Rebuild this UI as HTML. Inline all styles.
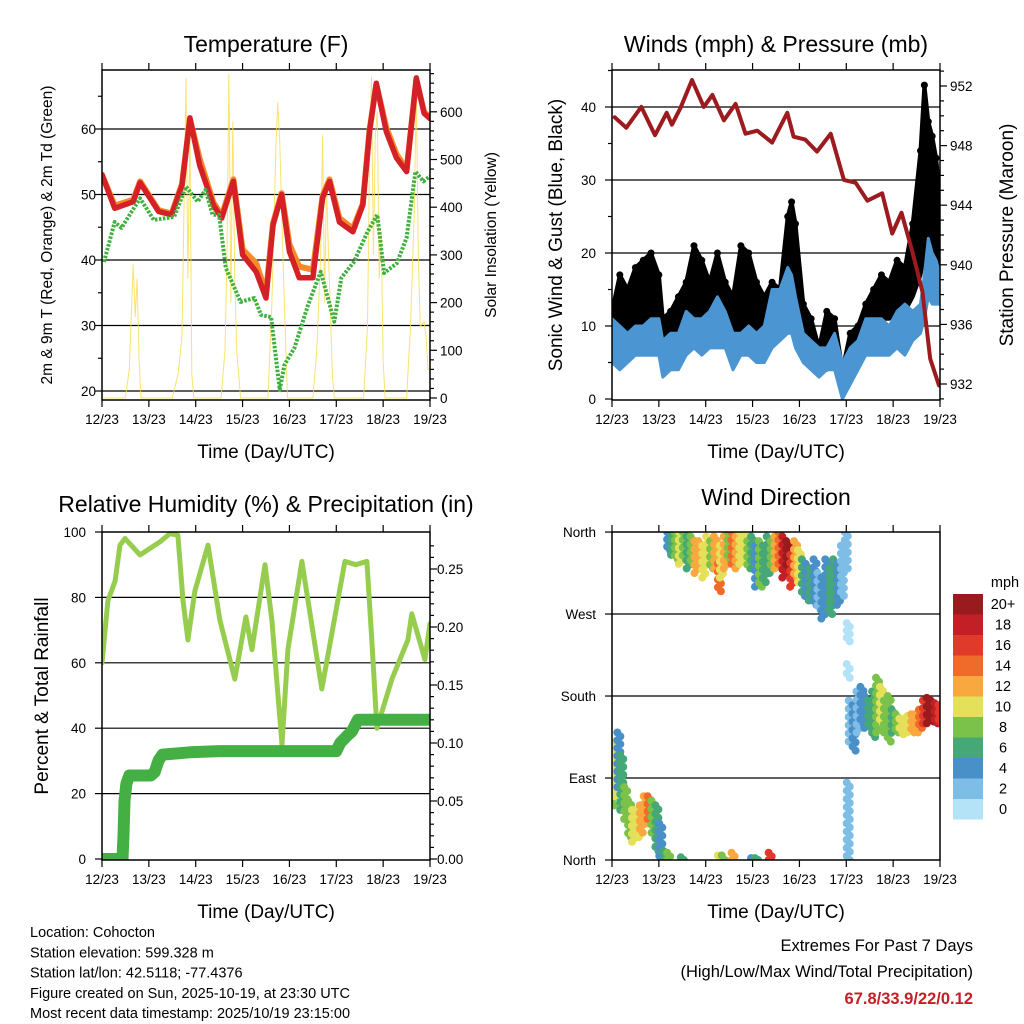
<!DOCTYPE html>
<html><head><meta charset="utf-8"><style>
body{margin:0;background:#fff;}
svg{display:block;font-family:"Liberation Sans",sans-serif;}
</style></head><body>
<svg id="chart" width="1024" height="1024" viewBox="0 0 1024 1024" xmlns="http://www.w3.org/2000/svg">
<defs>
<clipPath id="c1"><rect x="102" y="70" width="328" height="330"/></clipPath>
<clipPath id="c2"><rect x="612" y="70" width="328" height="330"/></clipPath>
<clipPath id="c3"><rect x="102" y="532" width="328" height="328"/></clipPath>
<clipPath id="c4"><rect x="612" y="532" width="328" height="328"/></clipPath>
</defs>
</svg>
<script>
// ---- data ----
const dayLabels = ["12/23","13/23","14/23","15/23","16/23","17/23","18/23","19/23"];
const tHours = [0,6.5,16,19.5,29,35.7,41,45,50,57,61.3,67.3,72,79,84,87.6,92,96,101,108,113,116.5,121.6,128.5,133.6,137,140.5,145.6,150.8,156,161,165,168];
const tRed   = [53,47.9,48.9,51.8,47.4,46.9,51.4,61.7,54.5,48.4,46.4,52,40.8,38.2,34.2,45.3,50,41.3,37.3,37.3,49.5,52,45.8,44.3,48.4,59.6,67,59.6,55.6,53.5,67.8,62.4,61.6];
const tOrange= [53,48.3,49.2,52,47.6,47.1,51.6,61.5,55.5,48.8,46.8,52.3,41.6,39.5,35,45.6,50.2,42.4,39,38.5,49.8,52.3,46.4,44.8,48.6,59.8,66.8,60.2,56.2,53.8,67.5,62.6,61.8];
const tdHours = [1,6.5,10,13.5,19.5,26.6,37,43,49,53,56.6,60,63.4,71,78,81.5,86.6,91,93.5,98.6,105.5,112,119,122.6,129,136,141,144.5,151,156,160.5,164.6,168];
const tDew   = [39.7,45.8,44.9,46.6,49.4,46.1,46.6,51.2,48.9,50.7,46.9,46.9,38.8,33.6,34.2,31.6,31.3,20.2,24,26.6,33.1,38.2,30.6,37.3,39.7,44.3,46.9,38,39.5,43.4,53.5,52,52.8];
const solHours = [0,12,14,16,17,18,19,20,36,39,41,42,43,44,45,46,47,61,63,64,65,66,67,68,69,71,85,87,89,90,91,93,95,108,110,112,113,114,115,116,118,119,134,136,137,138,139,140,141,142,143,144,145,156,158,160,161,162,163,165,166,167,168];
const solVals  = [0,0,60,280,170,250,80,0,0,50,130,400,670,250,560,50,0,0,100,300,680,200,580,250,100,0,0,200,520,620,540,250,0,0,100,300,551,200,450,300,50,0,0,150,500,673,300,550,600,250,350,80,0,0,150,400,650,300,150,160,130,60,60];
const presHours = [1.4,7.3,15,22,28,30.7,35,41,47,51.4,57.3,63.3,68.4,74.4,82,89.8,93,99,105,112,118.8,124.8,130.8,138.4,143.5,148.3,153.8,159,163,167.5];
const presVals  = [949.9,949.2,950.6,948.7,950.2,949.4,950.5,952.4,950.6,951.4,949.7,950.8,948.8,949,948.2,950.2,948.6,948.4,947.6,948.8,945.7,945.5,944.3,944.8,942.1,943.5,940.9,938.2,933.7,931.9];
const wHours = [0,4,8,12,16,20,24,26,30,34,38,42,46,50,54,58,62,66,70,74,78,82,86,90,92,94,98,102,106,110,114,118,122,126,130,134,138,142,146,150,154,158,160,162,164,166,168];
const windHi = [11,10,9,10,10,11,11,8,9,9,12,11,11,12,14,12,9,9,10,9,10,15,15,18,17,14,9,8,7,7,9,5,7,8,11,11,11,10,12,13,12,13,17,22,20,19,17];
const windLo = [5,4,5,6,6,6,6,3,4,4,6,7,6,7,7,7,4,6,6,5,5,7,8,9,9,7,5,4,3,4,4,0,2,4,6,6,6,6,7,6,8,9,11,14,13,13,13];
const gustHi = [12,17,15,18,19,20,17,11,12,14,16,21,19,16,20,16,14,21,20,16,14,16,15,25,27,24,13,11,7,12,11,4,9,10,13,15,17,16,19,18,24,34,43,38,36,33,28];
const gustLo = [8,9,9,10,10,10,10,7,8,7,10,11,10,11,12,11,8,9,10,9,9,12,14,16,16,13,7,6,4,4,7,2,4,7,10,10,11,11,12,12,14,17,20,22,21,20,18];
const rhHours = [0,3,6.7,9.2,11.8,19.5,29.7,34.8,38.9,41.5,44,47.6,54.3,60.4,68,73.7,76.8,83.5,87,92.2,95.2,102.4,112.6,124.4,130,135.7,138.2,140.8,148.5,156.7,158.7,165.4,168];
const rhVals  = [60,79,85,96,98,93,97,99.5,99,79,67,82,96,73,55,74,64,90,73,35,64,91,52,91,90,91,67,40,55,67,75,61,72];
const prHours = [0,10.5,11,11.5,12.5,14,25,27,29,31,45,60,120,122,126,128,131,168];
const prVals  = [0,0,0.02,0.05,0.065,0.072,0.072,0.075,0.085,0.09,0.092,0.093,0.093,0.1,0.107,0.11,0.12,0.12];
const dirHour = [0.5,2,3.5,5,7,9,11,13,15,17,19,21,23,25,27,29,36,55,57,62,72,74,81,
 29,31,33,35,37,39,41,43,45,47,49,51,53,55,56,58,60,62,64,66,68,70,72,74,76,78,80,82,84,86,88,90,92,94,96,98,100,102,104,106,108,110,112,114,116,118,120,121,121,121,
 122,124,126,128,130,132,134,136,138,140,142,144,146,148,150,152,154,156,158,160,162,164,166,168];
const dirLo = [60,70,80,55,45,25,20,25,30,40,45,30,10,0,0,0,0,0,0,0,0,0,0,
 340,335,330,325,330,320,325,315,320,310,325,320,320,295,310,320,330,325,320,325,330,320,320,300,300,305,315,320,320,325,310,320,300,310,305,290,285,285,280,275,265,270,270,285,280,290,320,240,200,0,
 130,120,140,150,145,145,135,140,150,140,130,140,140,140,138,140,140,140,145,150,150,152,150,150];
const dirHi = [110,130,140,115,80,65,55,55,60,70,70,65,60,40,10,8,3,5,5,8,2,2,8,
 360,360,360,360,360,355,355,350,350,345,355,350,355,325,345,355,360,360,355,360,360,350,355,345,350,345,355,350,355,360,355,350,335,350,340,330,325,320,330,315,310,330,320,330,325,345,360,260,215,85,
 175,170,185,190,180,175,185,200,190,175,180,165,160,155,155,158,160,160,165,175,178,175,172,170];
const dirSpd = [8,10,4,6,8,8,10,10,12,12,14,8,6,4,6,8,6,10,8,12,4,6,16,
 4,6,8,10,8,7,9,12,13,11,10,9,12,15,10,12,9,14,12,10,11,8,6,4,8,7,6,8,12,14,18,20,16,13,10,6,5,6,4,3,4,5,6,7,5,3,2,1,0,2,
 3,4,3,4,5,6,7,8,10,9,8,7,8,10,11,10,12,13,14,16,20,21,19,17];
const legendLabels = ["0","2","4","6","8","10","12","14","16","18","20+"];
const legendColors = ["#b4e3f8","#7dbde6","#4a90c8","#46a876","#7ac24a","#e5e05a","#f8a83f","#f06a2a","#e03a2a","#c41f26","#9a1b1e"];

// ---- helpers ----
const NS="http://www.w3.org/2000/svg";
const svg=document.getElementById('chart');
function mk(tag,attrs,parent){const e=document.createElementNS(NS,tag);for(const k in attrs)e.setAttribute(k,attrs[k]);(parent||svg).appendChild(e);return e;}
function txt(s,x,y,size,anchor,extra){const e=mk('text',Object.assign({x:x,y:y,'font-size':size,'text-anchor':anchor||'middle',fill:'#000'},extra||{}));e.textContent=s;return e;}
function ptsOf(hs,vs,sx,sy){return hs.map((h,i)=>sx(h).toFixed(1)+','+sy(vs[i]).toFixed(1)).join(' ');}

const P=[{x0:102,x1:430,y0:70,y1:400},{x0:612,x1:940,y0:70,y1:400},{x0:102,x1:430,y0:532,y1:860},{x0:612,x1:940,y0:532,y1:860}];
const sx=[0,1,2,3].map(i=>h=>P[i].x0+h/168*(P[i].x1-P[i].x0));
const y1L=v=>391-(v-20)*6.55, y1R=s=>398-s*0.477;
const y2L=v=>399-v*7.3, y2R=p=>384-(p-932)*14.9;
const y3L=v=>859-v*3.27, y3R=p=>859-p*1160;
const y4=d=>860-d*0.911;

function frame(i,name){
  const p=P[i];
  const r=mk('rect',{x:p.x0,y:p.y0,width:p.x1-p.x0,height:p.y1-p.y0,fill:'none',stroke:'#000','stroke-width':1.5});
  
  
  dayLabels.forEach((d,k)=>{
    const x=sx[i](k*24);
    const t1=mk('line',{x1:x,x2:x,y1:p.y0,y2:p.y0-7,stroke:'#000','stroke-width':1.2});
    
    
    const t2=mk('line',{x1:x,x2:x,y1:p.y1,y2:p.y1+7,stroke:'#000','stroke-width':1.2});
    
    
    const l=txt(d,x,p.y1+24,13.5);
    
    
  });
  const xt=txt('Time (Day/UTC)',(p.x0+p.x1)/2,p.y1+58,19);
  
  
}
function gridLine(i,y){const p=P[i];const g=mk('line',{x1:p.x0,x2:p.x1,y1:y,y2:y,stroke:'#000','stroke-width':1.2});
  
  }
function leftTick(i,y,len,label,lx){const p=P[i];const t=mk('line',{x1:p.x0,x2:p.x0-len,y1:y,y2:y,stroke:'#000','stroke-width':1.2});
  
  
  if(label!==null){const l=txt(label,lx,y+5,13.5,'end');
  
  }}
function rightTick(i,y,len,label,lx){const p=P[i];const t=mk('line',{x1:p.x1,x2:p.x1+len,y1:y,y2:y,stroke:'#000','stroke-width':1.2});
  
  
  if(label!==null){const l=txt(label,lx,y+5,13.5,'start');
  
  }}
function vtitle(s,x,y,size,name){const e=txt(s,x,y,size,'middle',{transform:'rotate(-90 '+x+' '+y+')'});
  
  }
function title(s,x,y,name){const e=txt(s,x,y,23);
  
  }

// ---- Panel 1: Temperature ----
title('Temperature (F)',266,52,'temperature-title');
[20,30,40,50,60].forEach(v=>gridLine(0,y1L(v)));
const g1=mk('g',{'clip-path':'url(#c1)'});
const sol=mk('polyline',{points:ptsOf(solHours,solVals,sx[0],y1R),fill:'none',stroke:'#f9dc4a','stroke-width':1,'stroke-opacity':0.8},g1);


const tor=mk('polyline',{points:ptsOf(tHours,tOrange,sx[0],y1L),fill:'none',stroke:'#f58a2a','stroke-width':6,'stroke-linejoin':'round','stroke-linecap':'round'},g1);


const trd=mk('polyline',{points:ptsOf(tHours,tRed,sx[0],y1L),fill:'none',stroke:'#d42027','stroke-width':5.5,'stroke-linejoin':'round','stroke-linecap':'round'},g1);


const tdw=mk('polyline',{points:ptsOf(tdHours,tDew,sx[0],y1L),fill:'none',stroke:'#3fb03f','stroke-width':4,'stroke-dasharray':'2.5 1.5','stroke-linejoin':'round'},g1);


frame(0,'temperature');
for(let v=20;v<=70;v+=5){const y=y1L(v);if(y<70)continue;leftTick(0,y,v%10===0?7:4,v%10===0?String(v):null,96);}
for(let s=0;s<=680;s+=20){rightTick(0,y1R(s),s%100===0?7:4,s%100===0?String(s):null,440);}
vtitle('2m & 9m T (Red, Orange) & 2m Td (Green)',52,235,15.5,'temperature-y-axis-title');
vtitle('Solar Insolation (Yellow)',496,235,15.5,'solar-y-axis-title');

// ---- Panel 2: Winds ----
title('Winds (mph) & Pressure (mb)',776,52,'winds-title');
[10,20,30,40].forEach(v=>gridLine(1,y2L(v)));
const g2=mk('g',{'clip-path':'url(#c2)'});
const gustPts=ptsOf(wHours,gustHi,sx[1],y2L)+' '+ptsOf(wHours.slice().reverse(),gustLo.slice().reverse(),sx[1],y2L);
const gust=mk('polygon',{points:gustPts,fill:'#000',stroke:'#000','stroke-width':4,'stroke-linejoin':'round'},g2);


wHours.forEach((h,i)=>{const c=mk('circle',{cx:sx[1](h),cy:y2L(gustHi[i]),r:3.5,fill:'#000'},g2);
  
  });
const windPts=ptsOf(wHours,windHi,sx[1],y2L)+' '+ptsOf(wHours.slice().reverse(),windLo.slice().reverse(),sx[1],y2L);
const wind=mk('polygon',{points:windPts,fill:'#4b96d2',stroke:'#4b96d2','stroke-width':3,'stroke-linejoin':'round'},g2);


const pres=mk('polyline',{points:ptsOf(presHours,presVals,sx[1],y2R),fill:'none',stroke:'#9b1b1e','stroke-width':4,'stroke-linejoin':'round','stroke-linecap':'round'},g2);


frame(1,'winds');
for(let v=0;v<=45;v+=5){leftTick(1,y2L(v),v%10===0?7:4,v%10===0?String(v):null,596);}
for(let p=931;p<=953;p+=1){const y=y2R(p);if(y<70||y>400)continue;rightTick(1,y,(p-932)%4===0?7:4,(p-932)%4===0?String(p):null,950);}
vtitle('Sonic Wind & Gust (Blue, Black)',562,235,19,'wind-y-axis-title');
vtitle('Station Pressure (Maroon)',1013,235,19,'pressure-y-axis-title');

// ---- Panel 3: RH & precip ----
title('Relative Humidity (%) & Precipitation (in)',266,512,'humidity-title');
[20,40,60,80].forEach(v=>gridLine(2,y3L(v)));
const g3=mk('g',{'clip-path':'url(#c3)'});
const rh=mk('polyline',{points:ptsOf(rhHours,rhVals,sx[2],y3L),fill:'none',stroke:'#97cd4f','stroke-width':5,'stroke-linejoin':'round','stroke-linecap':'round'},g3);


const pr=mk('polyline',{points:ptsOf(prHours,prVals,sx[2],y3R),fill:'none',stroke:'#44b044','stroke-width':12,'stroke-linejoin':'round','stroke-linecap':'round'},g3);


frame(2,'humidity');
for(let v=0;v<=100;v+=20){leftTick(2,y3L(v),7,String(v),86);}
for(let p=0;p<=0.28;p+=0.01){const k=Math.round(p*100);rightTick(2,y3R(k/100),k%5===0?7:4,k%5===0?(k/100).toFixed(2):null,437);}
vtitle('Percent & Total Rainfall',48,696,19,'humidity-y-axis-title');

// ---- Panel 4: Wind direction ----
title('Wind Direction',776,505,'wind-direction-title');
[90,180,270].forEach(d=>gridLine(3,y4(d)));
const g4=mk('g',{'clip-path':'url(#c4)'});
dirHour.forEach((h,i)=>{
  const col=legendColors[Math.min(10,Math.floor(dirSpd[i]/2))];
  const ya=y4(dirHi[i]), yb=y4(dirLo[i]);
  const n=Math.max(1,Math.round((yb-ya)/4));
  for(let k=0;k<=n;k++){
    const c=mk('circle',{cx:sx[3](h)+((k%2)?1.5:-1.5),cy:ya+(yb-ya)*k/n,r:4,fill:col},g4);
    
    
  }
});
frame(3,'wind-direction');
["North","East","South","West","North"].forEach((s,k)=>leftTick(3,y4(k*90),7,s,596));
legendColors.forEach((c,k)=>{
  const y=799-k*20.5;
  const r=mk('rect',{x:953,y:y,width:30,height:20.5,fill:c});
  
  
  const l=txt(legendLabels[k],1003,y+15,14.5);
  
  
});
const mph=txt('mph',1005,587,14.5);



// ---- footer text ----
["Location: Cohocton","Station elevation: 599.328 m","Station lat/lon: 42.5118; -77.4376","Figure created on Sun, 2025-10-19, at 23:30 UTC","Most recent data timestamp: 2025/10/19 23:15:00"].forEach((s,k)=>{
  const e=txt(s,30,937+k*20.3,14.5,'start');
  
  
});
const ex1=txt('Extremes For Past 7 Days',973,951,16.5,'end');


const ex2=txt('(High/Low/Max Wind/Total Precipitation)',973,977,16.5,'end');


const ex3=txt('67.8/33.9/22/0.12',973,1004,16.5,'end',{fill:'#c41f26','font-weight':'bold'});


</script>
</body></html>
